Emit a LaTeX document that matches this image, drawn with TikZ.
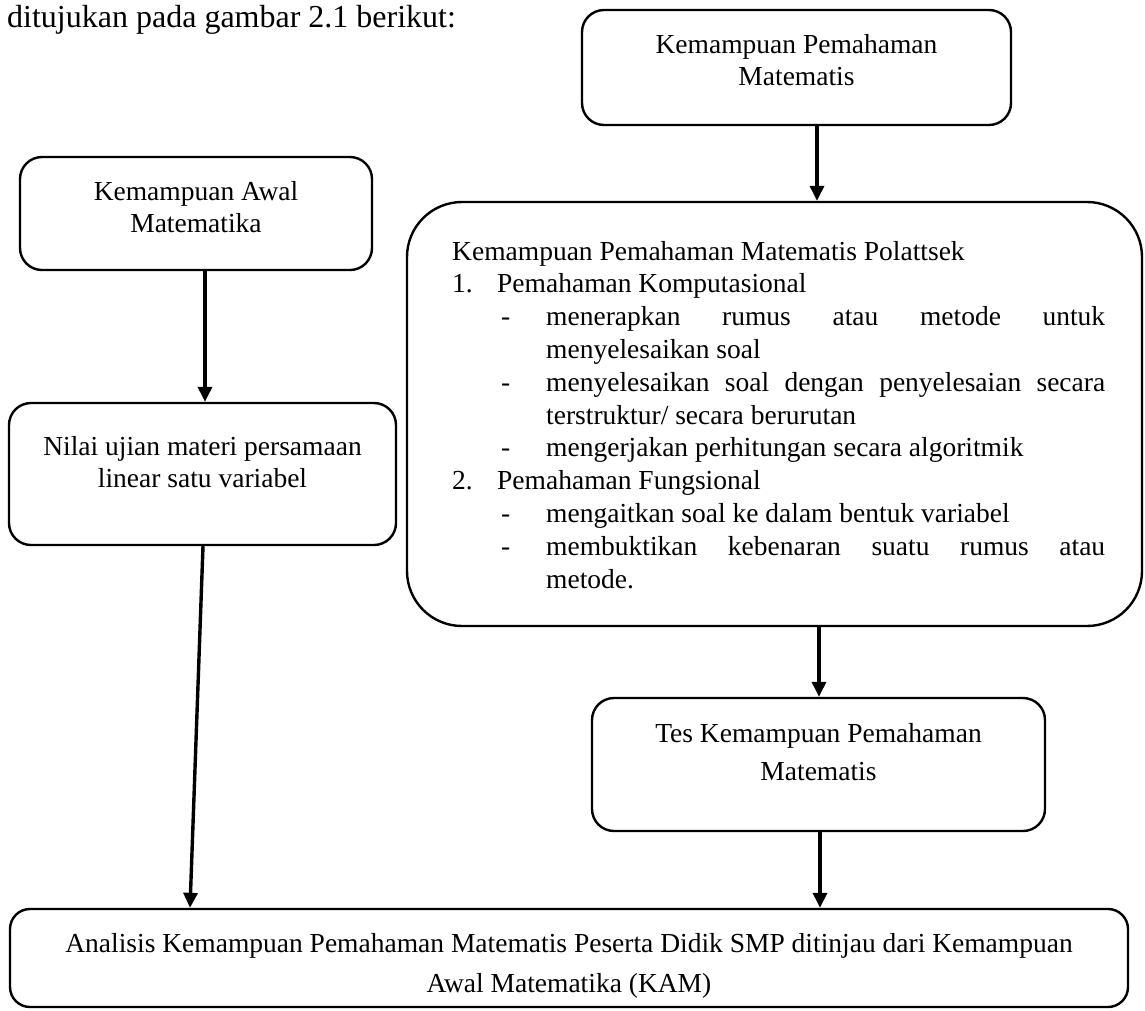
\documentclass[tikz,border=0pt]{standalone}
\usepackage{fontspec}
\setmainfont{Liberation Serif}
\usetikzlibrary{arrows.meta}
\tikzset{
  box/.style={draw, line width=2.4pt, inner sep=0pt, rounded corners=22pt},
  arr/.style={line width=3.4pt, -{Triangle[length=15pt,width=14pt]}},
  lbl/.style={inner sep=0pt, anchor=base},
}
\newcommand{\bxfont}{\fontsize{27.5}{32.8}\selectfont}
\newcommand{\subline}[1]{\hspace*{49pt}\makebox[45pt][l]{-}#1\par}
\newcommand{\contline}[1]{\hspace*{94pt}#1\par}
\begin{document}
\begin{tikzpicture}[x=1pt,y=-1pt]
\useasboundingbox (0,0) rectangle (1145,1010);

\node[inner sep=0pt, anchor=base west, font=\fontsize{32}{38}\selectfont] (intro) at (7,27) {ditujukan pada gambar 2.1 berikut:};

% boxes
\node[box, minimum width=429pt, minimum height=115pt] (topbox) at (796.5,67.5) {};
\node[box, minimum width=352pt, minimum height=113pt] (leftA) at (196,213.5) {};
\node[box, minimum width=387pt, minimum height=142pt] (leftB) at (202.5,474) {};
\node[box, rounded corners=55pt, minimum width=735pt, minimum height=424pt] (big) at (774.5,414) {};
\node[box, minimum width=453pt, minimum height=133pt] (tes) at (818.5,764.5) {};
\node[box, rounded corners=20pt, minimum width=1118pt, minimum height=98pt] (bottom) at (569,958) {};

% texts
\node[lbl] (ttop) at (796.5,53) {\parbox[t]{420pt}{\centering\bxfont Kemampuan Pemahaman\\Matematis}};
\node[lbl] (tleftA) at (196,200) {\parbox[t]{340pt}{\centering\bxfont Kemampuan Awal\\Matematika}};
\node[lbl] (tleftB) at (202.5,455) {\parbox[t]{380pt}{\centering\bxfont Nilai ujian materi persamaan\\linear satu variabel}};
\node[lbl] (ttes) at (818.5,742) {\parbox[t]{440pt}{\centering\fontsize{27.5}{38}\selectfont Tes Kemampuan Pemahaman\\Matematis}};
\node[lbl] (tbottom) at (569,952) {\parbox[t]{1100pt}{\centering\fontsize{27.5}{40}\selectfont Analisis Kemampuan Pemahaman Matematis Peserta Didik SMP ditinjau dari Kemampuan\\Awal Matematika (KAM)}};

\node[inner sep=0pt, anchor=base west] (tbig) at (452,260) {\parbox[t]{653pt}{\bxfont
Kemampuan Pemahaman Matematis Polattsek\par
\makebox[45pt][l]{1.}Pemahaman Komputasional\par
\subline{\makebox[559pt][s]{menerapkan rumus atau metode untuk}}
\contline{menyelesaikan soal}
\subline{\makebox[559pt][s]{menyelesaikan soal dengan penyelesaian secara}}
\contline{terstruktur/ secara berurutan}
\subline{mengerjakan perhitungan secara algoritmik}
\makebox[45pt][l]{2.}Pemahaman Fungsional\par
\subline{mengaitkan soal ke dalam bentuk variabel}
\subline{\makebox[559pt][s]{membuktikan kebenaran suatu rumus atau}}
\contline{metode.}
}};

% connectors
\draw[arr] (817,0 |- topbox.south) -- (817,0 |- big.north);
\draw[arr] (205,0 |- leftA.south) -- (205,0 |- leftB.north);
\draw[arr] (203,0 |- leftB.south) -- (190,0 |- bottom.north);
\draw[arr] (819,0 |- big.south) -- (819,0 |- tes.north);
\draw[arr] (820,0 |- tes.south) -- (820,0 |- bottom.north);
\end{tikzpicture}
\end{document}
